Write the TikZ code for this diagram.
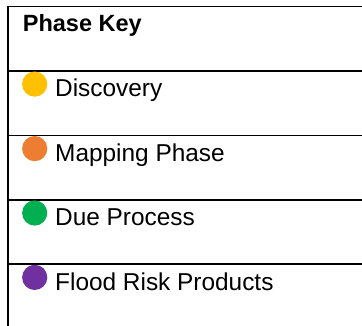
\documentclass[tikz,border=0pt]{standalone}
\usepackage{fontspec}
\setmainfont{Liberation Sans}
\definecolor{kyellow}{HTML}{FFC000}
\definecolor{korange}{HTML}{ED7D31}
\definecolor{kgreen}{HTML}{00B050}
\definecolor{kpurple}{HTML}{7030A0}
\tikzset{
  rule/.style={line width=1.9pt, black},
  dot/.style={circle, inner sep=0pt, minimum size=25.2pt},
  label/.style={anchor=base west, inner sep=0pt, font=\fontsize{24.4pt}{28pt}\selectfont, text=black},
  head/.style={anchor=base west, inner sep=0pt, font=\fontsize{23.5pt}{28pt}\selectfont\bfseries, text=black}
}
\begin{document}
\begin{tikzpicture}[x=1pt,y=1pt]
\useasboundingbox (0,0) rectangle (362,-326);
\fill[white] (0,0) rectangle (362,-326);
% table rules
\draw[rule] (362,-6.5) -- (8.2,-6.5) -- (8.2,-326);
\draw[rule] (8.2,-70.9) -- (362,-70.9);
\draw[rule] (8.2,-135.5) -- (362,-135.5);
\draw[rule] (8.2,-199.8) -- (362,-199.8);
\draw[rule] (8.2,-264.2) -- (362,-264.2);
% header
\node[head] (hdr) at (22.7,-31.7) {Phase Key};
% rows
\node[dot, fill=kyellow] (d1) at (34.7,-84.1) {};
\node[label] (t1) at (55,-96.8) {Discovery};
\node[dot, fill=korange] (d2) at (34.7,-148.6) {};
\node[label] (t2) at (55,-161.3) {Mapping Phase};
\node[dot, fill=kgreen] (d3) at (34.7,-213) {};
\node[label] (t3) at (55,-225.7) {Due Process};
\node[dot, fill=kpurple] (d4) at (34.7,-277.4) {};
\node[label] (t4) at (55,-290.1) {Flood Risk Products};
\end{tikzpicture}
\end{document}
